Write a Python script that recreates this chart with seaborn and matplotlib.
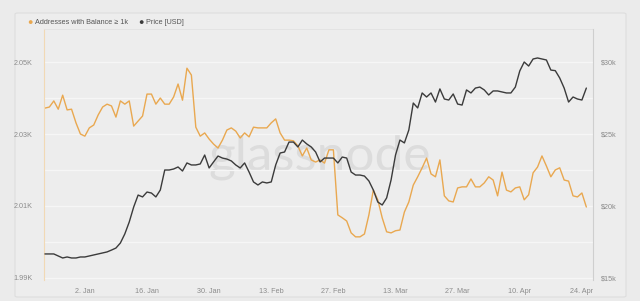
import numpy as np
import pandas as pd
import matplotlib
matplotlib.use("Agg")
import matplotlib.pyplot as plt
from matplotlib.patches import FancyBboxPatch
import seaborn as sns

start_date = "2022-12-24"

addresses_k = [
    2.0372, 2.0375, 2.0392, 2.0369, 2.0408, 2.0367, 2.0369, 2.0331, 2.0300, 2.0294,
    2.0317, 2.0325, 2.0353, 2.0375, 2.0383, 2.0378, 2.0347, 2.0392, 2.0383, 2.0392,
    2.0322, 2.0336, 2.0350, 2.0411, 2.0411, 2.0383, 2.0400, 2.0383, 2.0383, 2.0403,
    2.0439, 2.0394, 2.0483, 2.0464, 2.0319, 2.0294, 2.0303, 2.0286, 2.0272, 2.0261,
    2.0283, 2.0311, 2.0317, 2.0308, 2.0289, 2.0303, 2.0292, 2.0319, 2.0317, 2.0317,
    2.0317, 2.0331, 2.0342, 2.0303, 2.0283, 2.0283, 2.0281, 2.0267, 2.0239, 2.0261,
    2.0228, 2.0222, 2.0228, 2.0219, 2.0256, 2.0256, 2.0075, 2.0067, 2.0058, 2.0025,
    2.0014, 2.0014, 2.0022, 2.0075, 2.0144, 2.0117, 2.0067, 2.0028, 2.0025, 2.0031,
    2.0033, 2.0083, 2.0111, 2.0158, 2.0181, 2.0206, 2.0233, 2.0189, 2.0181, 2.0228,
    2.0128, 2.0114, 2.0111, 2.0150, 2.0153, 2.0153, 2.0175, 2.0153, 2.0153, 2.0164,
    2.0181, 2.0172, 2.0128, 2.0194, 2.0144, 2.0139, 2.0150, 2.0153, 2.0117, 2.0131,
    2.0192, 2.0208, 2.0239, 2.0211, 2.0181, 2.0200, 2.0206, 2.0172, 2.0169, 2.0128,
    2.0125, 2.0136, 2.0097,
]

price_usd = [
    16670, 16670, 16670, 16530, 16390, 16460, 16390, 16390, 16460, 16460,
    16530, 16600, 16670, 16740, 16810, 16940, 17080, 17430, 18060, 18890,
    19930, 20760, 20630, 20970, 20900, 20630, 21110, 22500, 22500, 22570,
    22710, 22430, 22990, 22850, 22850, 22920, 23540, 22640, 23060, 23470,
    23330, 23260, 23130, 22850, 22640, 22990, 22360, 21670, 21460, 21670,
    21600, 21670, 22850, 23680, 23750, 24440, 24440, 24100, 24580, 24310,
    24100, 23750, 23060, 23330, 23330, 23330, 22990, 23400, 23330, 22360,
    22150, 22150, 22080, 21740, 21110, 20280, 20070, 20560, 21810, 23540,
    24580, 24380, 25280, 27150, 26810, 27850, 27570, 27850, 27220, 28130,
    27430, 27360, 27780, 27080, 27010, 28060, 27850, 28190, 28260, 28060,
    27710, 27990, 27990, 27920, 27850, 27850, 28260, 29380, 30000, 29720,
    30210, 30280, 30210, 30140, 29440, 29400, 28890, 28190, 27220, 27570,
    27430, 27360, 28190,
]

left_ticks = [1.99, 2.00, 2.01, 2.02, 2.03, 2.04, 2.05]
left_labels = ["1.99K", "", "2.01K", "", "2.03K", "", "2.05K"]
right_ticks = [15000, 20000, 25000, 30000]
right_labels = ["$15k", "$20k", "$25k", "$30k"]
x_tick_dates = ["2023-01-02", "2023-01-16", "2023-01-30", "2023-02-13", "2023-02-27",
                "2023-03-13", "2023-03-27", "2023-04-10", "2023-04-24"]
x_tick_labels = ["2. Jan", "16. Jan", "30. Jan", "13. Feb", "27. Feb",
                 "13. Mar", "27. Mar", "10. Apr", "24. Apr"]

series_names = ["Addresses with Balance ≥ 1k", "Price [USD]"]

ORANGE = "#e9a850"
DARK = "#3b3b3b"
BG = "#ebebeb"
TICK = "#8c8c8c"

dates = pd.date_range(start_date, periods=len(addresses_k), freq="D")
df = pd.DataFrame({"date": dates, "addr": addresses_k, "price": price_usd})

sns.set_theme(style="white")
plt.rcParams["font.family"] = ["Liberation Sans", "DejaVu Sans"]

fig = plt.figure(figsize=(6.4, 3.01), dpi=100)
fig.patch.set_facecolor(BG)

card = FancyBboxPatch((15 / 640, 4 / 301), 611 / 640, 284 / 301,
                      boxstyle="round,pad=0,rounding_size=0.004",
                      transform=fig.transFigure, facecolor="#ededed",
                      edgecolor="#dddddd", linewidth=0.8, zorder=-10)
fig.patches.append(card)

fig.text(320 / 640, 1 - 157 / 301, "glassnode", ha="center", va="center",
         fontsize=37, color="#dcdcdc", family="Lato", zorder=-5)

ax = fig.add_axes([44 / 640, 21 / 301, 549 / 640, 251 / 301])
ax.set_facecolor("none")
ax2 = ax.twinx()
ax2.set_facecolor("none")

sns.lineplot(data=df, x="date", y="addr", ax=ax, color=ORANGE, linewidth=1.0)
sns.lineplot(data=df, x="date", y="price", ax=ax2, color=DARK, linewidth=1.0)

x0 = dates[0] - pd.Timedelta(hours=5)
x1 = dates[0] + pd.Timedelta(days=123.5)
ax.set_xlim(x0, x1)
ax.set_ylim(1.9894, 2.0592)
ax2.set_ylim(14861, 32292)

ax.set_yticks(left_ticks)
ax.set_yticklabels(left_labels)
ax2.set_yticks(right_ticks)
ax2.set_yticklabels(right_labels)
ax.set_xticks(pd.to_datetime(x_tick_dates))
ax.set_xticklabels(x_tick_labels)

ax.grid(axis="y", color="#f6f6f6", linewidth=0.9)
ax.grid(axis="x", visible=False)
ax2.grid(False)

for a in (ax, ax2):
    a.set_xlabel("")
    a.set_ylabel("")
    for s in a.spines.values():
        s.set_visible(False)
    a.tick_params(length=0, labelsize=5.2, labelcolor=TICK)

ax.tick_params(axis="y", pad=8)
ax.tick_params(axis="x", pad=6)
ax2.tick_params(axis="y", pad=6)
ax.spines["left"].set_visible(True)
ax.spines["left"].set_color("#f1d9b5")
ax.spines["left"].set_linewidth(0.8)
ax2.spines["right"].set_visible(True)
ax2.spines["right"].set_color("#cfcfcf")
ax2.spines["right"].set_linewidth(0.8)
ax.spines["top"].set_visible(True)
ax.spines["top"].set_color("#e2e2e2")
ax.spines["top"].set_linewidth(0.6)

for a in (ax, ax2):
    if a.get_legend():
        a.get_legend().remove()

fig.text(30 / 640, 1 - 23 / 301, "●", ha="center", va="center", fontsize=6.5, color=ORANGE)
fig.text(35 / 640, 1 - 23 / 301, series_names[0], ha="left", va="center",
         fontsize=5.2, color="#555555")
fig.text(141 / 640, 1 - 23 / 301, "●", ha="center", va="center", fontsize=6.5, color=DARK)
fig.text(146 / 640, 1 - 23 / 301, series_names[1], ha="left", va="center",
         fontsize=5.2, color="#555555")

fig.savefig("out.png", dpi=100, facecolor=BG)
